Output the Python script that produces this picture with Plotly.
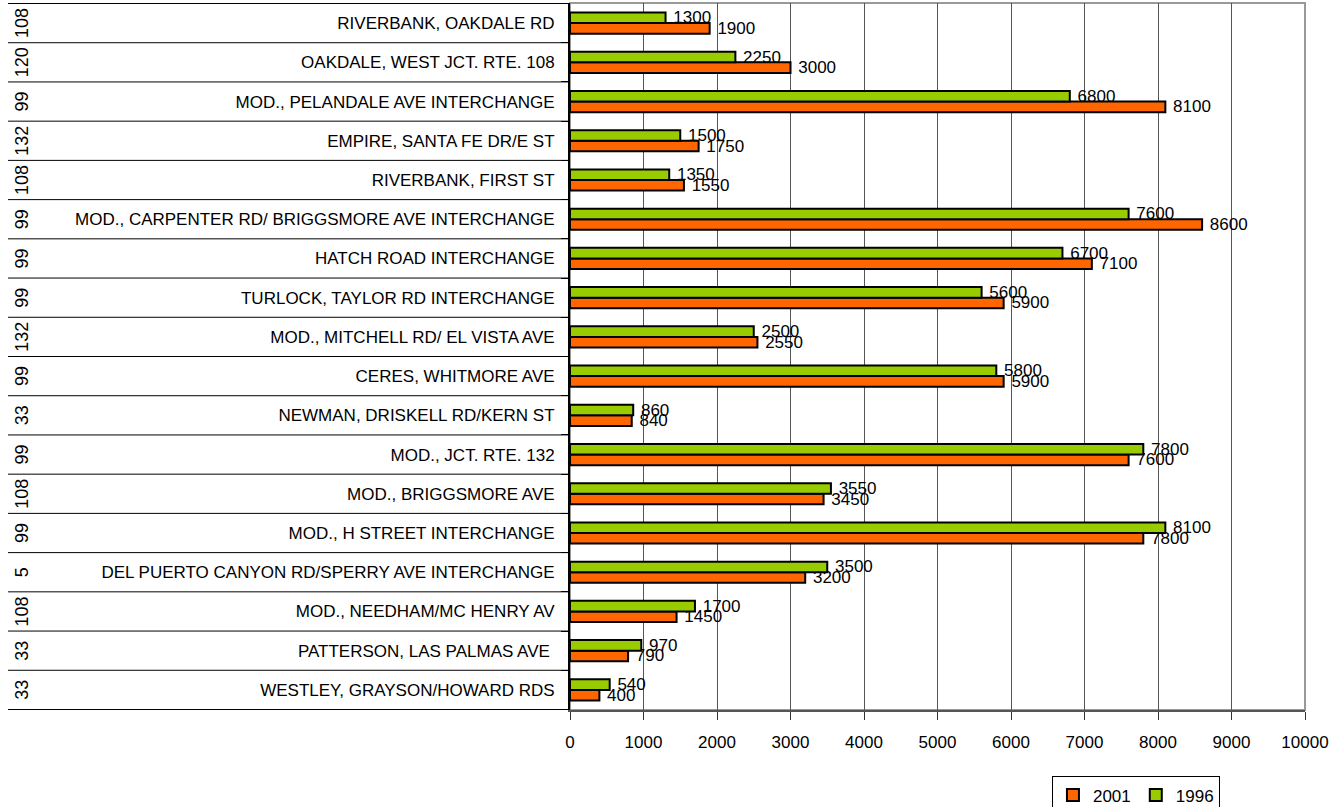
import plotly.graph_objects as go

# categories listed bottom to top
names = [
    "WESTLEY, GRAYSON/HOWARD RDS",
    "PATTERSON, LAS PALMAS AVE ",
    "MOD., NEEDHAM/MC HENRY AV",
    "DEL PUERTO CANYON RD/SPERRY AVE INTERCHANGE",
    "MOD., H STREET INTERCHANGE",
    "MOD., BRIGGSMORE AVE",
    "MOD., JCT. RTE. 132",
    "NEWMAN, DRISKELL RD/KERN ST",
    "CERES, WHITMORE AVE",
    "MOD., MITCHELL RD/ EL VISTA AVE",
    "TURLOCK, TAYLOR RD INTERCHANGE",
    "HATCH ROAD INTERCHANGE",
    "MOD., CARPENTER RD/ BRIGGSMORE AVE INTERCHANGE",
    "RIVERBANK, FIRST ST",
    "EMPIRE, SANTA FE DR/E ST",
    "MOD., PELANDALE AVE INTERCHANGE",
    "OAKDALE, WEST JCT. RTE. 108",
    "RIVERBANK, OAKDALE RD",
]
routes = ["33", "33", "108", "5", "99", "108", "99", "33", "99", "132",
          "99", "99", "99", "108", "132", "99", "120", "108"]
v2001 = [400, 790, 1450, 3200, 7800, 3450, 7600, 840, 5900, 2550,
         5900, 7100, 8600, 1550, 1750, 8100, 3000, 1900]
v1996 = [540, 970, 1700, 3500, 8100, 3550, 7800, 860, 5800, 2500,
         5600, 6700, 7600, 1350, 1500, 6800, 2250, 1300]
x_ticks = list(range(0, 10001, 1000))

FONT = "Liberation Sans, Arial, sans-serif"
FS = 17

fig = go.Figure()
fig.add_trace(go.Bar(
    y=names, x=v2001, orientation="h", name="2001",
    marker=dict(color="#FF6600", line=dict(color="black", width=2)),
    text=[" " + str(v) for v in v2001], textposition="outside",
    textfont=dict(family=FONT, size=FS, color="black"),
    constraintext="none", cliponaxis=False,
))
fig.add_trace(go.Bar(
    y=names, x=v1996, orientation="h", name="1996",
    marker=dict(color="#99CC00", line=dict(color="black", width=2)),
    text=[" " + str(v) for v in v1996], textposition="outside",
    textfont=dict(family=FONT, size=FS, color="black"),
    constraintext="none", cliponaxis=False,
))

shapes = []
# plot border (top/right)
shapes.append(dict(type="rect", xref="paper", yref="paper", x0=0, x1=1, y0=0, y1=1,
                   line=dict(color="#999999", width=2), layer="below"))
# row separators across the label area
LEFT = -0.7646
for i in range(len(names) + 1):
    shapes.append(dict(type="line", xref="paper", yref="y", x0=LEFT, x1=0,
                       y0=i - 0.5, y1=i - 0.5, line=dict(color="black", width=1)))

annotations = []
for name, r in zip(names, routes):
    annotations.append(dict(xref="paper", yref="y", x=-0.7456, y=name, text=r,
                            textangle=-90, showarrow=False,
                            font=dict(family=FONT, size=18, color="black"),
                            xanchor="center", yanchor="middle"))

fig.update_layout(
    width=1343, height=807,
    margin=dict(l=570, r=38, t=3, b=97, autoexpand=False),
    paper_bgcolor="white", plot_bgcolor="white",
    barmode="group", bargap=0.46, bargroupgap=0,
    font=dict(family=FONT, size=FS, color="black"),
    shapes=shapes, annotations=annotations,
    legend=dict(orientation="h", x=0.77, y=-0.094, xanchor="center", yanchor="top",
                bordercolor="black", borderwidth=1, bgcolor="white",
                font=dict(family=FONT, size=FS, color="black"),
                itemwidth=30, tracegroupgap=0),
    xaxis=dict(range=[0, 10000], tickvals=x_ticks, ticktext=[str(t) for t in x_ticks],
               showgrid=True, gridcolor="#555555", gridwidth=1,
               showline=True, linecolor="#555555", linewidth=2,
               ticks="outside", ticklen=8, tickcolor="#333333",
               ticklabelstandoff=8, zeroline=False, automargin=False,
               tickfont=dict(family=FONT, size=FS, color="black")),
    yaxis=dict(type="category", categoryorder="array", categoryarray=names,
               tickson="boundaries", ticks="outside", ticklen=7, tickcolor="black",
               showgrid=False, showline=True, linecolor="black", linewidth=2,
               ticklabelstandoff=10, automargin=False,
               tickfont=dict(family=FONT, size=FS, color="black")),
)

fig.write_html("out.html")
